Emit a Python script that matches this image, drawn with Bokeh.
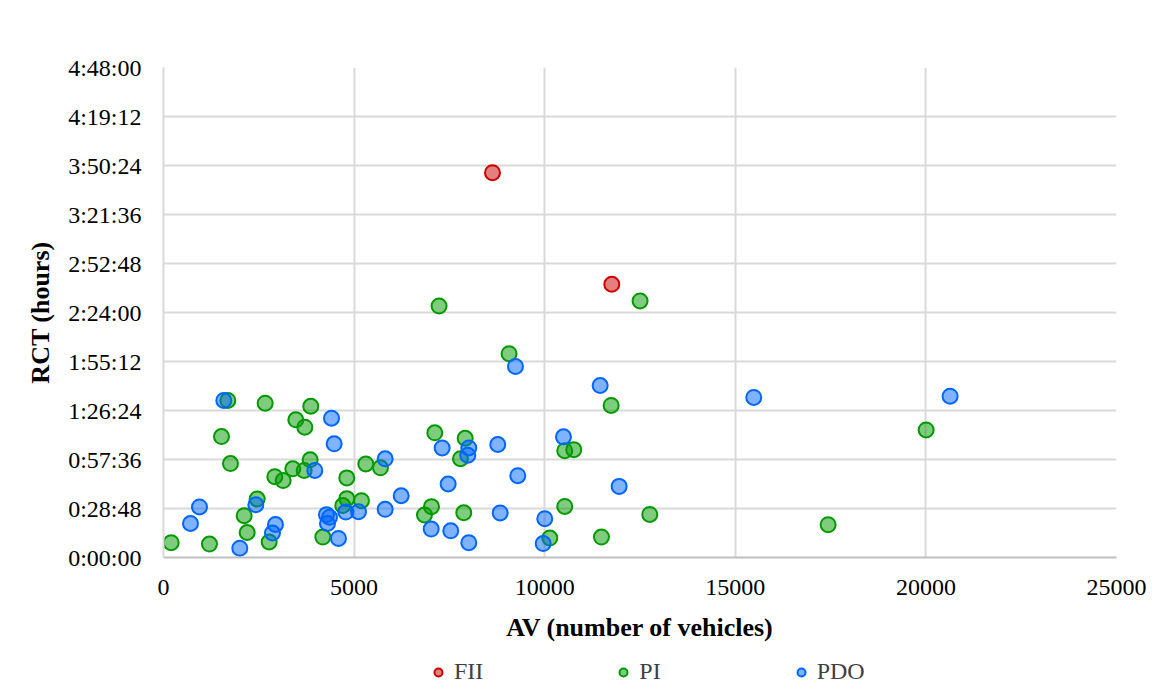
from bokeh.plotting import figure
from bokeh.models import (ColumnDataSource, FixedTicker, CustomJSTickFormatter,
                          Range1d, Legend, LegendItem)
from bokeh.layouts import column
from bokeh.embed import file_html
from bokeh.resources import INLINE

# AV (number of vehicles) and RCT (minutes) per series
fii_av = [8630, 11760]
fii_rct = [226.2, 160.6]

pi_av = [201, 1206, 1521, 1687, 1757, 2116, 2195, 2457, 2667, 2772, 2920, 3139,
         3392, 3471, 3707, 3690, 3864, 3847, 4179, 4703, 4808, 4808, 5194, 5307,
         5692, 6846, 7030, 7117, 7229, 7790, 7877, 7914, 9065, 10133, 10526,
         10526, 10762, 11489, 11743, 12502, 12756, 17435, 20006]
pi_rct = [8.7, 7.9, 71.1, 92.3, 55.2, 24.6, 14.7, 34.4, 90.7, 9.1, 47.5, 45.2,
          52.1, 80.9, 76.6, 51.2, 88.9, 57.4, 12.0, 30.5, 46.8, 34.6, 33.4, 55.0,
          52.7, 25.0, 29.9, 73.3, 147.8, 58.1, 26.3, 70.1, 119.8, 11.4, 30.0,
          62.8, 63.4, 12.0, 89.4, 150.8, 25.3, 19.3, 75.0]

pdo_av = [708, 944, 1582, 2001, 2422, 2859, 2938, 3969, 4275, 4302, 4354, 4407,
          4477, 4590, 4782, 5115, 5815, 5815, 6235, 7022, 7310, 7467, 7536, 7982,
          8009, 8009, 8769, 8832, 9233, 9294, 10002, 9960, 10492, 11455, 11953,
          15484, 20635]
pdo_rct = [20.0, 29.7, 92.3, 5.5, 31.0, 14.4, 19.4, 51.2, 25.2, 20.0, 23.6, 81.9,
           66.8, 11.2, 26.7, 26.9, 58.0, 28.3, 36.3, 16.7, 64.4, 43.2, 15.7, 60.1,
           64.4, 8.7, 66.4, 26.2, 112.3, 48.1, 22.8, 8.2, 70.9, 101.1, 41.8,
           94.1, 94.8]

series_names = ["FII", "PI", "PDO"]
series_colors = ["#cc0000", "#009a00", "#0066ff"]

x_ticks = [0, 5000, 10000, 15000, 20000, 25000]
y_ticks = [i * 28.8 for i in range(11)]  # minutes: 0:00:00 .. 4:48:00

FONT = "Liberation Serif"

p = figure(frame_width=953, frame_height=490, output_backend="svg",
           toolbar_location=None,
           x_range=Range1d(0, 25000), y_range=Range1d(0, 288),
           min_border_left=163, min_border_right=42, min_border_top=67,
           min_border_bottom=96)
p.outline_line_color = None

data = [(fii_av, fii_rct), (pi_av, pi_rct), (pdo_av, pdo_rct)]
for (xs, ys), col in zip(data, series_colors):
    src = ColumnDataSource(dict(x=xs, y=ys))
    p.scatter("x", "y", source=src, size=15, marker="circle",
              fill_color=col, fill_alpha=0.5, line_color=col, line_width=2)

# axes
p.xaxis.ticker = FixedTicker(ticks=x_ticks)
p.yaxis.ticker = FixedTicker(ticks=y_ticks)
p.yaxis.formatter = CustomJSTickFormatter(code="""
const s = Math.round(tick * 60);
const h = Math.floor(s / 3600);
const m = Math.floor((s % 3600) / 60);
const sec = s % 60;
return h + ":" + String(m).padStart(2, "0") + ":" + String(sec).padStart(2, "0");
""")
for ax in (p.xaxis, p.yaxis):
    ax.major_tick_line_color = None
    ax.minor_tick_line_color = None
    ax.major_tick_out = 0
    ax.major_tick_in = 0
    ax.major_label_text_font = FONT
    ax.major_label_text_font_size = "24px"
    ax.major_label_text_color = "#000000"
    ax.axis_label_text_font = FONT
    ax.axis_label_text_font_size = "26px"
    ax.axis_label_text_font_style = "bold"
    ax.axis_label_text_color = "#000000"
p.xaxis.axis_label = "AV (number of vehicles)"
p.yaxis.axis_label = "RCT (hours)"
p.xaxis.axis_line_color = "#bfbfbf"
p.xaxis.axis_line_width = 2
p.yaxis.axis_line_color = "#d9d9d9"
p.yaxis.axis_line_width = 2
p.xaxis.major_label_standoff = 22
p.yaxis.major_label_standoff = 22
p.xaxis.axis_label_standoff = 15
p.yaxis.axis_label_standoff = 10

p.xgrid.ticker = FixedTicker(ticks=x_ticks)
p.ygrid.ticker = FixedTicker(ticks=y_ticks)
for g in (p.xgrid, p.ygrid):
    g.grid_line_color = "#d9d9d9"
    g.grid_line_width = 2

# legend strip below the chart (its series lie outside this strip's ranges,
# so only the legend entries are visible)
q = figure(frame_width=1158, frame_height=34, output_backend="svg",
           toolbar_location=None, x_range=Range1d(0, 1), y_range=Range1d(0, 1),
           x_axis_type=None, y_axis_type=None, min_border=0)
q.outline_line_color = None
q.grid.visible = False
items = []
for name, (xs, ys), col in zip(series_names, data, series_colors):
    r = q.scatter(x=xs, y=ys, size=15, marker="circle", fill_color=col,
                  fill_alpha=0.5, line_color=col, line_width=2)
    items.append(LegendItem(label=name, renderers=[r]))
legend = Legend(items=items, orientation="horizontal", location=(428, 2),
                label_text_font=FONT, label_text_font_size="24px",
                label_text_color="#404040", spacing=130, glyph_width=20,
                glyph_height=20, label_standoff=6, border_line_color=None,
                background_fill_alpha=0, padding=0, margin=0)
q.add_layout(legend)

layout = column(p, q, spacing=0)
open("out.html", "w").write(file_html(layout, INLINE))
